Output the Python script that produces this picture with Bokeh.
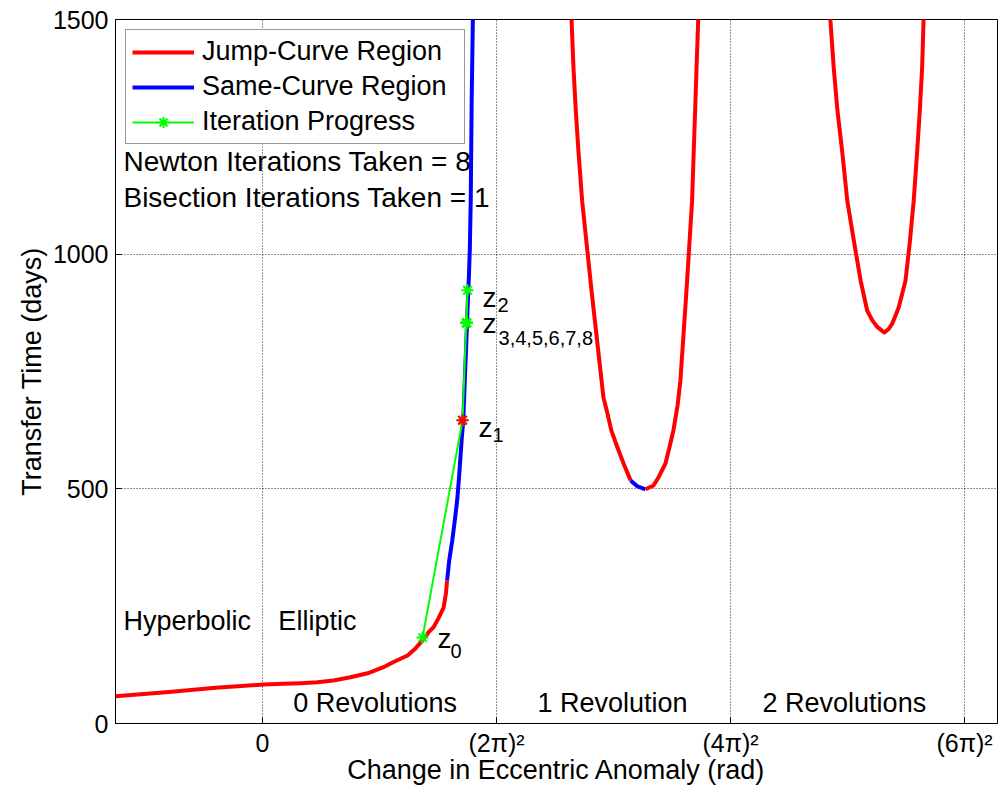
from bokeh.plotting import figure
from bokeh.models import Range1d, FixedTicker, Label, Legend, LegendItem
from bokeh.embed import file_html
from bokeh.resources import INLINE

# ---- data (x in units of sqrt(z)/(2*pi), y in days) ----
rev0_red_x = [-0.628, -0.40, -0.20, 0.004, 0.090, 0.162, 0.235, 0.303, 0.376, 0.449, 0.517,
              0.560, 0.620, 0.654, 0.684, 0.709, 0.731, 0.752, 0.774, 0.784, 0.789]
rev0_red_y = [58, 67, 76, 83, 84.6, 86, 88, 91.6, 98.7, 107, 120,
              131, 145, 160, 177, 194, 205, 224, 247, 277, 305]
rev0_blue_x = [0.789, 0.798, 0.811, 0.822, 0.832, 0.839, 0.846, 0.852, 0.858, 0.863, 0.868,
               0.872, 0.875, 0.879, 0.882, 0.886, 0.890, 0.892, 0.894, 0.899, 0.901]
rev0_blue_y = [305, 347, 390, 433, 475, 518, 567, 610, 646, 710, 773,
               823, 866, 916, 951, 1008, 1114, 1221, 1327, 1498, 1560]

rev1_left_x = [1.316, 1.321, 1.329, 1.339, 1.350, 1.366, 1.406, 1.449, 1.457, 1.474, 1.491,
               1.517, 1.543, 1.573]
rev1_left_y = [1560, 1498, 1398, 1306, 1221, 1114, 923, 731, 695, 661, 624,
               588, 554, 518]
rev1_blue_x = [1.573, 1.603, 1.637]
rev1_blue_y = [518, 505, 499]
rev1_right_x = [1.637, 1.671, 1.692, 1.722, 1.739, 1.756, 1.774, 1.786, 1.812, 1.836, 1.843,
                1.849, 1.855, 1.862, 1.866]
rev1_right_y = [499, 507, 524, 554, 588, 624, 678, 731, 923, 1114, 1221,
                1306, 1398, 1498, 1560]

rev2_x = [2.422, 2.427, 2.441, 2.457, 2.477, 2.499, 2.527, 2.556, 2.570, 2.584, 2.606, 2.627,
          2.658, 2.677, 2.691, 2.705, 2.719, 2.734, 2.748, 2.767, 2.783, 2.798, 2.809, 2.819,
          2.825, 2.829]
rev2_y = [1560, 1498, 1398, 1306, 1221, 1114, 1029, 944, 912, 880, 859, 845,
          833, 841, 852, 869, 887, 916, 944, 1029, 1114, 1221, 1306, 1398,
          1498, 1560]

iter_x = [0.684, 0.855, 0.876, 0.872, 0.872, 0.872, 0.872, 0.872, 0.872]
iter_y = [183, 646, 923, 854, 854, 854, 854, 854, 854]
bisect_index = 1  # z1 taken by bisection (red star)

x_ticks = [0, 1, 2, 3]
x_tick_labels = ["0", "(2\u03c0)\u00b2", "(4\u03c0)\u00b2", "(6\u03c0)\u00b2"]
y_ticks = [0, 500, 1000, 1500]

newton_iters = 8
bisection_iters = 1

FONT = "Liberation Sans"
RED, BLUE, GREEN = "#ff0000", "#0000ff", "#00ff00"

p = figure(frame_width=882, frame_height=704,
           x_range=Range1d(-0.628, 3.141), y_range=Range1d(0, 1500),
           output_backend="svg", toolbar_location=None,
           min_border_left=115, min_border_top=19, min_border_right=2, min_border_bottom=0)
p.outline_line_color = "black"
p.outline_line_alpha = 1
p.background_fill_color = "white"

# axes
p.xaxis.ticker = FixedTicker(ticks=x_ticks)
p.xaxis.major_label_overrides = {t: l for t, l in zip(x_ticks, x_tick_labels)}
p.yaxis.ticker = FixedTicker(ticks=y_ticks)
for ax in (p.xaxis[0], p.yaxis[0]):
    ax.major_tick_in = 6
    ax.major_tick_out = 0
    ax.minor_tick_in = 0
    ax.minor_tick_out = 0
    ax.axis_line_color = "black"
    ax.major_tick_line_color = "black"
    ax.major_label_text_font = FONT
    ax.major_label_text_font_size = "25px"
    ax.major_label_text_color = "black"
    ax.axis_label_text_font = FONT
    ax.axis_label_text_font_size = "27px"
    ax.axis_label_text_font_style = "normal"
    ax.axis_label_text_color = "black"
p.xaxis.axis_label = "Change in Eccentric Anomaly (rad)"
p.yaxis.axis_label = "Transfer Time (days)"
p.xaxis.major_label_standoff = 5
p.xaxis.axis_label_standoff = -5
p.yaxis.major_label_standoff = 7
p.yaxis.axis_label_standoff = 3

# grid
p.xgrid.ticker = FixedTicker(ticks=x_ticks)
p.ygrid.ticker = FixedTicker(ticks=y_ticks)
p.grid.grid_line_color = "black"
p.grid.grid_line_dash = "1 2"
p.grid.grid_line_width = 1
p.grid.grid_line_alpha = 0.85

# curves
lw = 4
r_red0 = p.line(rev0_red_x, rev0_red_y, line_color=RED, line_width=lw, line_join="round")
r_blue0 = p.line(rev0_blue_x, rev0_blue_y, line_color=BLUE, line_width=lw, line_join="round")
p.line(rev1_left_x, rev1_left_y, line_color=RED, line_width=lw, line_join="round")
p.line(rev1_blue_x, rev1_blue_y, line_color=BLUE, line_width=lw, line_join="round")
p.line(rev1_right_x, rev1_right_y, line_color=RED, line_width=lw, line_join="round")
p.line(rev2_x, rev2_y, line_color=RED, line_width=lw, line_join="round")

# iteration progress
r_it = p.line(iter_x, iter_y, line_color=GREEN, line_width=2)
r_its = p.scatter(iter_x, iter_y, marker="asterisk", size=12, line_color=GREEN, line_width=2)
p.scatter([iter_x[bisect_index]], [iter_y[bisect_index]], marker="asterisk", size=12,
          line_color=RED, line_width=2)

legend = Legend(items=[
    LegendItem(label="Jump-Curve Region", renderers=[r_red0]),
    LegendItem(label="Same-Curve Region", renderers=[r_blue0]),
    LegendItem(label="Iteration Progress", renderers=[r_it, r_its]),
], location="top_left")
legend.margin = 10
legend.padding = 6
legend.spacing = 4
legend.label_height = 28
legend.glyph_height = 28
legend.glyph_width = 62
legend.label_width = 256
legend.label_standoff = 8
legend.label_text_font = FONT
legend.label_text_font_size = "27px"
legend.label_text_color = "black"
legend.border_line_color = "#333333"
legend.border_line_width = 1
legend.background_fill_alpha = 1
p.add_layout(legend)

def txt(x, y, s, size="27px", xo=0, yo=0, baseline="middle"):
    p.add_layout(Label(x=x, y=y, text=s, x_offset=xo, y_offset=yo,
                       text_font=FONT, text_font_size=size, text_color="black",
                       text_baseline=baseline, text_align="left"))

txt(-0.594, 1197, "Newton Iterations Taken = %d" % newton_iters, size="28px")
txt(-0.594, 1121, "Bisection Iterations Taken = %d" % bisection_iters, size="28px")
txt(-0.594, 219, "Hyperbolic")
txt(0.068, 219, "Elliptic")
txt(0.132, 43, "0 Revolutions")
txt(1.175, 43, "1 Revolution")
txt(2.137, 43, "2 Revolutions")

# z labels (z + subscript), offsets in screen px relative to iteration points
zlabels = [(0, "0", 15, -1, 28, -13), (1, "1", 16, -7, 30, -15),
           (2, "2", 15, -7, 30, -15), (3, "3,4,5,6,7,8", 16, -1, 32, -15)]
for i, sub, zx, zy, sx, sy in zlabels:
    txt(iter_x[i], iter_y[i], "z", size="28px", xo=zx, yo=zy, baseline="alphabetic")
    txt(iter_x[i], iter_y[i], sub, size="20px", xo=sx, yo=sy, baseline="alphabetic")

open("out.html", "w").write(file_html(p, INLINE))
